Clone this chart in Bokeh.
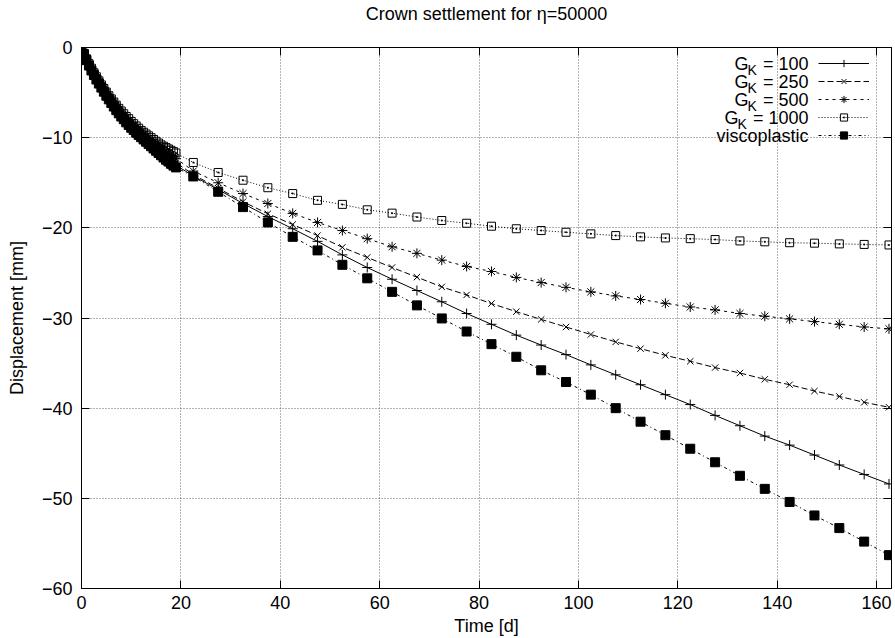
from bokeh.plotting import figure
from bokeh.models import (Range1d, FixedTicker, LinearAxis, Legend, LegendItem,
                          Label, CustomJSTickFormatter)
from bokeh.core.properties import value
from bokeh.embed import file_html
from bokeh.resources import INLINE

# ---------------- data ----------------
title_text = "Crown settlement for \u03b7=50000"
x_label = "Time [d]"
y_label = "Displacement [mm]"
x_ticks = [0, 20, 40, 60, 80, 100, 120, 140, 160]
y_ticks = [-60, -50, -40, -30, -20, -10, 0]

# excavation phase (dense output), days
t_exc = [0, 0.5, 1, 1.5, 2, 2.5, 3, 3.5, 4, 4.5, 5, 5.5, 6, 6.5, 7, 7.5, 8, 8.5, 9, 9.5,
         10, 10.5, 11, 11.5, 12, 12.5, 13, 13.5, 14, 14.5, 15, 15.5, 16, 16.5, 17, 17.5,
         18, 18.5, 19]
# creep phase (every 5 days)
t_creep = [22.5, 27.5, 32.5, 37.5, 42.5, 47.5, 52.5, 57.5, 62.5, 67.5,
           72.5, 77.5, 82.5, 87.5, 92.5, 97.5, 102.5, 107.5, 112.5, 117.5,
           122.5, 127.5, 132.5, 137.5, 142.5, 147.5, 152.5, 157.5, 162.5]

u_exc_g100 = [0, -0.72, -1.35, -1.95, -2.5, -3.0, -3.48, -3.93, -4.38, -4.8,
              -5.22, -5.62, -6.0, -6.38, -6.75, -7.1, -7.45, -7.78, -8.1, -8.4,
              -8.7, -8.97, -9.25, -9.5, -9.75, -10.0, -10.25, -10.5, -10.73, -10.96,
              -11.2, -11.44, -11.68, -11.92, -12.15, -12.38, -12.6, -12.82, -13.05]
u_exc_g250 = [0, -0.7, -1.33, -1.92, -2.46, -2.95, -3.42, -3.87, -4.3, -4.72,
              -5.13, -5.52, -5.9, -6.27, -6.63, -6.97, -7.3, -7.62, -7.93, -8.23,
              -8.52, -8.8, -9.07, -9.33, -9.58, -9.82, -10.06, -10.3, -10.53, -10.76,
              -10.99, -11.22, -11.45, -11.67, -11.89, -12.1, -12.32, -12.53, -12.75]
u_exc_g500 = [0, -0.68, -1.3, -1.87, -2.4, -2.88, -3.35, -3.8, -4.23, -4.64,
              -5.04, -5.43, -5.8, -6.16, -6.51, -6.85, -7.17, -7.48, -7.78, -8.07,
              -8.35, -8.62, -8.88, -9.13, -9.37, -9.6, -9.83, -10.05, -10.27, -10.48,
              -10.69, -10.9, -11.1, -11.3, -11.5, -11.7, -11.9, -12.1, -12.3]
u_exc_g1000 = [0, -0.65, -1.25, -1.8, -2.3, -2.8, -3.25, -3.7, -4.15, -4.55,
               -4.95, -5.35, -5.7, -6.05, -6.4, -6.75, -7.05, -7.35, -7.65, -7.9,
               -8.2, -8.45, -8.7, -8.95, -9.2, -9.4, -9.6, -9.8, -10.0, -10.2,
               -10.4, -10.6, -10.8, -10.95, -11.1, -11.25, -11.4, -11.55, -11.7]
u_exc_visco = [0, -0.75, -1.4, -2.0, -2.55, -3.05, -3.55, -4.0, -4.45, -4.9,
               -5.35, -5.75, -6.15, -6.55, -6.95, -7.3, -7.65, -7.95, -8.3, -8.6,
               -8.9, -9.15, -9.45, -9.7, -9.95, -10.2, -10.45, -10.7, -10.95, -11.2,
               -11.45, -11.7, -11.95, -12.2, -12.45, -12.65, -12.9, -13.1, -13.3]

u_creep_g100 = [-14.25, -15.75, -17.3, -18.75, -20.1, -21.5, -23.0, -24.4, -25.7, -26.95,
                -28.2, -29.5, -30.7, -31.9, -33.0, -34.06, -35.2, -36.3, -37.4, -38.5,
                -39.6, -40.8, -41.95, -43.1, -44.1, -45.2, -46.3, -47.35, -48.4]
u_creep_g250 = [-14.1, -15.6, -17.1, -18.44, -19.63, -20.86, -22.16, -23.28, -24.4, -25.47,
                -26.55, -27.44, -28.4, -29.3, -30.16, -31.0, -31.83, -32.65, -33.4, -34.14,
                -34.8, -35.5, -36.1, -36.8, -37.4, -38.1, -38.7, -39.35, -39.9]
u_creep_g500 = [-13.7, -15.0, -16.2, -17.3, -18.4, -19.4, -20.3, -21.2, -22.1, -22.83,
                -23.58, -24.28, -24.84, -25.5, -26.07, -26.6, -27.1, -27.55, -27.95, -28.37,
                -28.78, -29.1, -29.5, -29.8, -30.1, -30.4, -30.7, -31.0, -31.2]
u_creep_g1000 = [-12.75, -13.86, -14.72, -15.55, -16.2, -16.95, -17.4, -18.0, -18.37, -18.8,
                 -19.19, -19.49, -19.82, -20.1, -20.3, -20.49, -20.67, -20.86, -21.0, -21.12,
                 -21.2, -21.3, -21.45, -21.55, -21.65, -21.7, -21.78, -21.84, -21.9]
u_creep_visco = [-14.3, -16.0, -17.7, -19.4, -21.0, -22.5, -24.1, -25.6, -27.1, -28.6,
                 -30.05, -31.5, -32.9, -34.3, -35.8, -37.1, -38.5, -40.0, -41.5, -43.0,
                 -44.5, -46.0, -47.5, -48.95, -50.4, -51.9, -53.3, -54.8, -56.3]

legend_values = ["100", "250", "500", "1000"]
legend_last = "viscoplastic"

# ---------------- layout ----------------
W, H = 895, 638
B_LEFT, B_RIGHT, B_TOP, B_BOTTOM = 81, 4, 47, 50
FONT = "Liberation Sans"
FS = 18

p = figure(width=W, height=H, output_backend="svg", toolbar_location=None,
           x_range=Range1d(0, 163), y_range=Range1d(-60, 0),
           min_border_left=B_LEFT, min_border_right=B_RIGHT,
           min_border_top=B_TOP, min_border_bottom=B_BOTTOM,
           background_fill_color="white", border_fill_color="white")

p.outline_line_color = "black"
p.outline_line_width = 1
p.outline_line_alpha = 1

fmt = CustomJSTickFormatter(code="return tick < 0 ? '\u2212' + Math.abs(tick) : String(tick);")

for ax, ticks in ((p.xaxis[0], x_ticks), (p.yaxis[0], y_ticks)):
    ax.ticker = FixedTicker(ticks=ticks)
    ax.formatter = fmt
    ax.major_tick_in = 8
    ax.major_tick_out = 0
    ax.minor_tick_line_color = None
    ax.axis_line_color = "black"
    ax.major_tick_line_color = "black"
    ax.major_label_text_font = FONT
    ax.major_label_text_font_size = f"{FS}px"
    ax.major_label_text_color = "black"
    ax.axis_label_text_font = FONT
    ax.axis_label_text_font_size = f"{FS}px"
    ax.axis_label_text_font_style = "normal"
    ax.axis_label_text_color = "black"

p.xaxis.axis_label = x_label
p.xaxis.major_label_standoff = 7
p.xaxis.axis_label_standoff = 4
p.yaxis.axis_label = y_label
p.yaxis.major_label_standoff = 9
p.yaxis.axis_label_standoff = 12

blank = CustomJSTickFormatter(code="return '';")
# mirrored top axis; its axis label carries the chart title
top_ax = LinearAxis(ticker=FixedTicker(ticks=x_ticks), formatter=blank,
                    major_tick_in=8, major_tick_out=0, minor_tick_line_color=None,
                    major_label_text_font_size="0px", major_label_standoff=0,
                    axis_line_color="black",
                    axis_label=title_text, axis_label_standoff=24,
                    axis_label_text_font=FONT, axis_label_text_font_size=f"{FS}px",
                    axis_label_text_font_style="normal", axis_label_text_color="black")
right_ax = LinearAxis(ticker=FixedTicker(ticks=y_ticks), formatter=blank,
                      major_tick_in=8, major_tick_out=0, minor_tick_line_color=None,
                      major_label_text_font_size="0px", major_label_standoff=0,
                      axis_line_color="black")
p.add_layout(top_ax, "above")
p.add_layout(right_ax, "right")

for g in (p.xgrid[0], p.ygrid[0]):
    g.grid_line_color = "black"
    g.grid_line_alpha = 0.6
    g.grid_line_dash = "1 2"
    g.grid_line_width = 1

series = [
    (u_exc_g100, u_creep_g100, "solid", "cross", 10, None),
    (u_exc_g250, u_creep_g250, "6 3", "x", 9, None),
    (u_exc_g500, u_creep_g500, "3 4", "asterisk", 10, None),
    (u_exc_g1000, u_creep_g1000, "1 2", "square_dot", 8, None),
    (u_exc_visco, u_creep_visco, "3 3 1 3", "square", 9, "black"),
]

items = []
for u_exc, u_creep, dash, marker, size, fill in series:
    xs = t_exc + t_creep
    ys = u_exc + u_creep
    ln = p.line(xs, ys, line_color="black", line_width=1, line_dash=dash)
    sc = p.scatter(xs, ys, marker=marker, size=size, line_color="black",
                   line_width=1, fill_color=fill)
    items.append(LegendItem(label=value(" "), renderers=[ln, sc]))

PAD, ROW, GW, STAND = 7, 18, 51, 15
legend = Legend(items=items, location="top_right", margin=0, padding=PAD, spacing=0,
                glyph_width=GW, glyph_height=ROW, label_width=0, label_height=ROW,
                label_standoff=STAND, label_text_font_size="1px",
                border_line_alpha=0, background_fill_alpha=0)
p.add_layout(legend)

frame_w = W - B_LEFT - B_RIGHT
frame_h = H - B_TOP - B_BOTTOM

# legend texts (G with subscript K), right-aligned left of the samples
x_text_right = frame_w - PAD - STAND - GW - 10
arial = {" ": 0.278, "=": 0.584, "K": 0.667, "G": 0.778}
for d in "0123456789":
    arial[d] = 0.556
SUB = 14

def tw(s, fs):
    return sum(arial[c] for c in s) * fs

for i, v in enumerate(legend_values + [legend_last]):
    yc = frame_h - (PAD + ROW / 2 + ROW * i)
    common = dict(x_units="screen", y_units="screen", text_font=FONT,
                  text_color="black", text_align="right", text_baseline="middle")
    if i < len(legend_values):
        rest = "= " + v
        p.add_layout(Label(x=x_text_right, y=yc, text=rest, text_font_size=f"{FS}px", **common))
        xk = x_text_right - tw(rest, FS) - 6
        p.add_layout(Label(x=xk, y=yc - 6.5, text="K", text_font_size=f"{SUB}px", **common))
        xg = xk - tw("K", SUB) + 1
        p.add_layout(Label(x=xg, y=yc, text="G", text_font_size=f"{FS}px", **common))
    else:
        p.add_layout(Label(x=x_text_right, y=yc, text=v, text_font_size=f"{FS}px", **common))

open("out.html", "w").write(file_html(p, INLINE))
